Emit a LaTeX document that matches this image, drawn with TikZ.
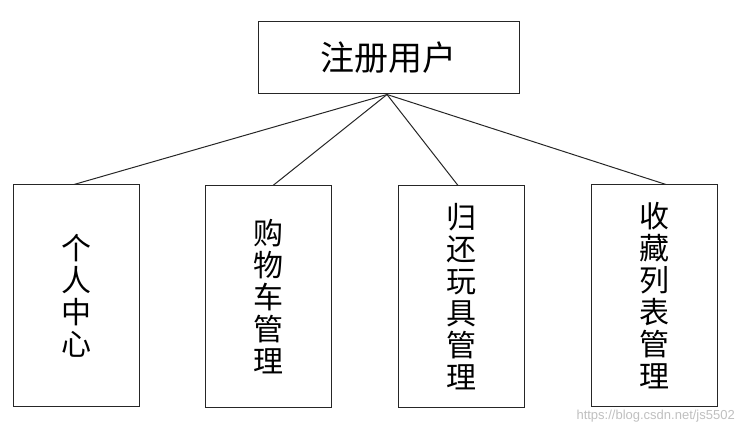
\documentclass[tikz,border=0pt]{standalone}
\usepackage{fontspec}
\newfontfamily\cjk{Noto Sans CJK SC}
\begin{document}
\begin{tikzpicture}[x=1pt,y=-1pt,
  box/.style={draw=black!85,line width=1pt,fill=white,inner sep=0pt},
  topbox/.style={box,minimum width=261pt,minimum height=72pt,font={\cjk\fontsize{34}{38}\selectfont}},
  colbox/.style={box,minimum width=126pt,minimum height=222pt,align=center,font={\cjk\fontsize{30}{32}\selectfont}},
  link/.style={draw=black!85,line width=1pt}]
\useasboundingbox (0,0) rectangle (742,435);
\node[topbox] (top) at (388.5,58) {注册用户};
\node[colbox] (a) at (76,296) {个\\人\\中\\心};
\node[colbox] (b) at (268.5,297) {购\\物\\车\\管\\理};
\node[colbox] (c) at (461.5,297) {归\\还\\玩\\具\\管\\理};
\node[colbox] (d) at (654,296) {收\\藏\\列\\表\\管\\理};
\coordinate (hub) at ([xshift=-1.5pt]top.south);
\draw[link] (hub) -- ([xshift=-2pt]a.north);
\draw[link] (hub) -- ([xshift=4.5pt]b.north);
\draw[link] (hub) -- ([xshift=-3.5pt]c.north);
\draw[link] (hub) -- ([xshift=12pt]d.north);
\node[anchor=east,text=black!25,font={\fontspec{Liberation Sans}\fontsize{13}{15}\selectfont},inner sep=0pt] (wm) at (735,416) {https://blog.csdn.net/js5502};
\end{tikzpicture}
\end{document}
